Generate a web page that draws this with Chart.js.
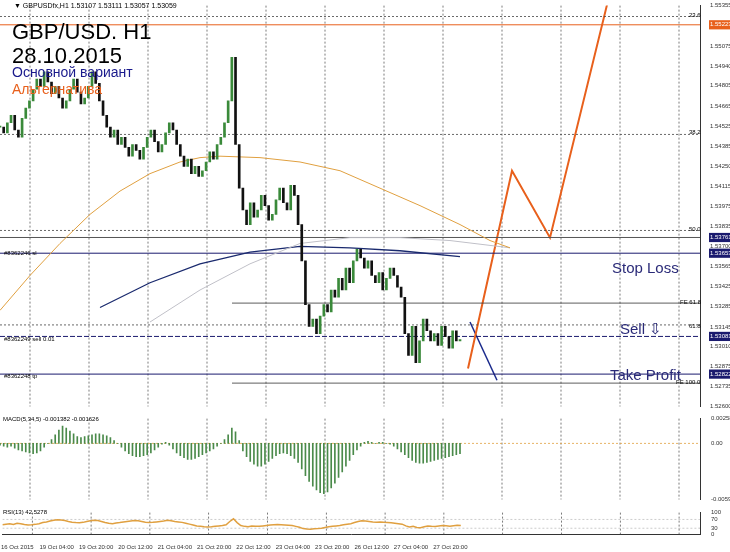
<!DOCTYPE html><html><head><meta charset="utf-8">
<script src="https://cdn.jsdelivr.net/npm/chart.js@4"></script>
<style>body{margin:0;width:730px;height:552px;background:#fff;position:relative;overflow:hidden;font-family:Arial,"Liberation Sans",sans-serif}
.p{position:absolute;left:0;width:730px}.t{position:absolute;white-space:nowrap}</style></head><body>
<div class="p" style="top:0;height:412px"><canvas id="c1"></canvas></div>
<div class="p" style="top:412px;height:94px"><canvas id="c2"></canvas></div>
<div class="p" style="top:506px;height:46px"><canvas id="c3"></canvas></div>
<div class="t" style="left:14px;top:2px;font-size:7px;color:#000">▼ GBPUSDfx,H1 1.53107 1.53111 1.53057 1.53059</div>
<div class="t" style="left:12px;top:20px;font-size:22px;color:#000;line-height:24px">GBP/USD. H1<br>28.10.2015</div>
<div class="t" style="left:12px;top:64px;font-size:14px;color:#1a1a8c">Основной вариант</div>
<div class="t" style="left:12px;top:81px;font-size:14px;color:#e8601c">Альтернатива</div>
<div class="t" style="left:612px;top:259px;font-size:15px;color:#2a2a78">Stop Loss</div>
<div class="t" style="left:620px;top:320px;font-size:15px;color:#2a2a78">Sell ⇩</div>
<div class="t" style="left:610px;top:366px;font-size:15px;color:#2a2a78">Take Profit</div>
<div class="t" style="left:4px;top:250px;font-size:6px">#8362246 sl</div>
<div class="t" style="left:4px;top:336px;font-size:6px">#8362249 sell 0.01</div>
<div class="t" style="left:4px;top:373px;font-size:6px">#8362248 tp</div>
<div class="t" style="left:689px;top:12px;font-size:6px">23.6</div>
<div class="t" style="left:689px;top:129px;font-size:6px">38.2</div>
<div class="t" style="left:689px;top:226px;font-size:6px">50.0</div>
<div class="t" style="left:680px;top:299px;font-size:6px">FE 61.8</div>
<div class="t" style="left:689px;top:323px;font-size:6px">61.8</div>
<div class="t" style="left:676px;top:379px;font-size:6px">FE 100.0</div>
<div class="t" style="left:3px;top:416px;font-size:6px">MACD(5,34,5) -0.001382 -0.001626</div>
<div class="t" style="left:3px;top:509px;font-size:6px">RSI(13) 42.5278</div>
<script>
const closes=[1.5452,1.5448,1.5455,1.5460,1.5450,1.5445,1.5458,1.5465,1.5470,
1.5478,1.5485,1.5480,1.5490,1.5483,1.5475,1.5480,
1.5472,1.5465,1.5470,1.5478,1.5485,1.5476,1.5468,1.5472,1.5480,1.5490,1.5482,1.5470,
1.5460,1.5452,1.5445,1.5450,1.5440,1.5445,1.5438,1.5432,1.5440,1.5436,1.5430,
1.5438,1.5445,1.5450,1.5442,1.5435,1.5440,1.5448,1.5455,1.5450,1.5440,1.5432,1.5425,1.5430,1.5420,1.5425,1.5418,1.5422,
1.5428,1.5435,1.5430,1.5440,1.5445,1.5455,1.5470,
1.5500,1.5440,1.5410,1.5395,1.5385,1.5400,1.5390,
1.5395,1.5405,1.5398,1.5388,1.5392,1.5402,1.5410,1.5400,1.5395,1.5412,1.5405,1.5385,
1.5360,1.5330,1.5315,1.5320,1.5310,1.5322,
1.5330,1.5325,1.5340,1.5335,1.5348,1.5340,1.5355,1.5345,1.5360,1.5368,1.5362,
1.5355,1.5360,1.5350,1.5345,1.5352,1.5340,1.5348,1.5355,1.5350,1.5342,1.5335,
1.5310,1.5295,1.5315,1.5290,1.5305,
1.5320,1.5312,1.5305,1.5310,1.5302,1.5315,1.5308,1.5300,1.5312,1.5305,1.5306];
const macd=[-0.0002,-0.0003,-0.0004,-0.0003,-0.0005,-0.0007,-0.0008,-0.0009,-0.0010,-0.0011,-0.0010,-0.0008,-0.0004,0.0000,0.0004,0.0009,0.0014,0.0018,0.0016,0.0013,0.0010,0.0007,0.0006,0.0007,0.0008,0.0009,0.0010,0.0010,0.0009,0.0008,0.0006,0.0003,0.0000,-0.0004,-0.0008,-0.0011,-0.0013,-0.0014,-0.0014,-0.0013,-0.0012,-0.0010,-0.0007,-0.0004,-0.0001,0.0001,-0.0002,-0.0006,-0.0010,-0.0013,-0.0015,-0.0017,-0.0017,-0.0016,-0.0014,-0.0012,-0.0010,-0.0008,-0.0006,-0.0003,0.0000,0.0004,0.0009,0.0016,0.0012,0.0003,-0.0008,-0.0014,-0.0019,-0.0022,-0.0024,-0.0024,-0.0022,-0.0019,-0.0016,-0.0013,-0.0011,-0.0010,-0.0011,-0.0013,-0.0016,-0.0020,-0.0027,-0.0034,-0.0040,-0.0045,-0.0049,-0.0052,-0.0053,-0.0051,-0.0047,-0.0042,-0.0036,-0.0030,-0.0024,-0.0018,-0.0012,-0.0007,-0.0003,0.0001,0.0002,0.0001,0.0000,0.0001,0.0001,0.0000,-0.0001,-0.0003,-0.0006,-0.0009,-0.0012,-0.0015,-0.0018,-0.0020,-0.0021,-0.0021,-0.0020,-0.0019,-0.0018,-0.0017,-0.0016,-0.0015,-0.0014,-0.0013,-0.0012,-0.0011];
const rsi=[45,48,50,47,52,50,46,44,45,47,50,55,58,62,66,68,67,64,60,57,55,54,56,60,63,65,64,60,55,52,50,53,55,58,60,62,64,63,60,57,55,56,58,60,62,65,63,60,58,56,52,48,44,40,38,36,35,36,38,40,42,45,60,72,55,42,38,36,40,38,38,40,42,44,45,46,45,44,43,42,38,34,28,26,25,27,28,30,33,36,38,40,42,45,48,50,55,60,63,62,60,58,57,58,56,55,54,52,50,48,40,35,38,33,32,36,40,38,37,40,42,41,39,41,43,42];
const maOrangeX=[0,30,60,90,120,150,180,200,220,260,300,340,380,420,460,490,510];
const maOrangeY=[1.5326,1.5350,1.5372,1.5392,1.5408,1.5420,1.5428,1.5431,1.5432,1.5431,1.5428,1.5422,1.5410,1.5398,1.5385,1.5374,1.5369];
const maGreyX=[150,200,250,300,350,400,450,510];
const maGreyY=[1.5318,1.5340,1.5358,1.5372,1.5376,1.5376,1.5374,1.5369];
const maNavyX=[100,150,200,250,300,350,400,460];
const maNavyY=[1.5328,1.5345,1.5358,1.5366,1.5370,1.5369,1.5367,1.5363];
const altX=[468,512,550,607], altY=[1.5286,1.5422,1.5376,1.5536];
const mainX=[470,497], mainY=[1.5318,1.5278];
const tickVals=[1.55355,1.55223,1.55075,1.54940,1.54805,1.54665,1.54525,1.54385,1.54250,1.54115,1.53975,1.53835,1.53761,1.53700,1.53653,1.53565,1.53425,1.53285,1.53145,1.53081,1.53010,1.52875,1.52822,1.52735,1.52600];
const boxed={"1.55223":"#e8601c","1.53761":"#1a1a6e","1.53653":"#1a1a6e","1.53081":"#1a1a6e","1.52822":"#1a1a6e"};
const dateLabels=['16 Oct 2015','19 Oct 04:00','19 Oct 20:00','20 Oct 12:00','21 Oct 04:00','21 Oct 20:00','22 Oct 12:00','23 Oct 04:00','23 Oct 20:00','26 Oct 12:00','27 Oct 04:00','27 Oct 20:00'];
const fib=[1.5528,1.5447,1.5381,1.5316];
const PX=3.68, XMAX=700/PX;
const pts=(xs,ys)=>xs.map((x,i)=>({x:x/PX,y:ys[i]}));
const hl=(v,x0)=>[{x:x0/PX,y:v},{x:XMAX,y:v}];
Chart.defaults.animation=false;Chart.defaults.font.size=7;Chart.defaults.color='#333';
const fitR={afterFit:s=>{s.width=30}};
const gridTicks=[];for(let k=0;k<12;k++)gridTicks.push((30+59*k)/PX);
const gridPlug={id:'g',beforeDatasetsDraw(ch){const {ctx,chartArea:a,scales:{x}}=ch;ctx.save();ctx.strokeStyle='#444';ctx.lineWidth=0.7;ctx.setLineDash([2,2]);gridTicks.forEach(v=>{const p=x.getPixelForValue(v);if(p<a.right){ctx.beginPath();ctx.moveTo(p,a.top);ctx.lineTo(p,a.bottom);ctx.stroke();}});ctx.restore();}};
function xNoGrid(){return {type:'linear',min:0,max:XMAX,display:false,offset:false}}
const candles=closes.map((c,i)=>({x:i,y:[i?closes[i-1]:c,c]}));
const line=(data,color,w,dash)=>({type:'line',data,borderColor:color,borderWidth:w,borderDash:dash||[],pointRadius:0,fill:false,tension:0});
new Chart(c1,{type:'bar',plugins:[gridPlug],data:{datasets:[
 {data:candles,backgroundColor:closes.map((c,i)=>c>=(i?closes[i-1]:c)?'#3a8a3a':'#111'),barThickness:2,minBarLength:1,grouped:false},
 line(pts(maOrangeX,maOrangeY),'#e0a040',1),
 line(pts(maGreyX,maGreyY),'#c0c0c8',1),
 line(pts(maNavyX,maNavyY),'#1a2a6e',1.3),
 line(hl(1.55223,0),'#e8601c',1),
 line(hl(1.53761,0),'#555',1),
 line(hl(1.53653,0),'#1a1a6e',1),
 line(hl(1.53081,0),'#1a1a6e',1,[5,2]),
 line(hl(1.52822,0),'#1a1a6e',1),
 line(hl(1.5331,232),'#333',0.8),
 line(hl(1.5276,232),'#333',0.8),
 ...fib.map(f=>line(hl(f,0),'#444',0.8,[2,2])),
 line(pts(altX,altY),'#e8601c',2),
 line(pts(mainX,mainY),'#1a2a8c',1.5)
]},options:{responsive:true,maintainAspectRatio:false,layout:{padding:{top:3,bottom:2}},plugins:{legend:{display:false},tooltip:{enabled:false}},
 scales:{x:xNoGrid(),y:{position:'right',min:1.5260,max:1.55355,...fitR,afterBuildTicks:s=>{s.ticks=tickVals.map(v=>({value:v}))},
 grid:{display:false},border:{color:'#333'},ticks:{autoSkip:false,padding:2,font:{size:6},callback:v=>v.toFixed(5),
 showLabelBackdrop:true,backdropPadding:1,backdropColor:c=>boxed[c.tick.value.toFixed(5)]||'rgba(0,0,0,0)',color:c=>boxed[c.tick.value.toFixed(5)]?'#fff':'#333'}}}}});
new Chart(c2,{type:'bar',plugins:[gridPlug],data:{datasets:[
 {data:macd.map((v,i)=>({x:i,y:v})),backgroundColor:'#4a8a4a',barThickness:1},
 line(hl(0,0),'#e0a040',0.8,[2,2])
]},options:{responsive:true,maintainAspectRatio:false,layout:{padding:{top:6,bottom:4}},plugins:{legend:{display:false},tooltip:{enabled:false}},
 scales:{x:xNoGrid(),y:{position:'right',min:-0.0059,max:0.0026,...fitR,afterBuildTicks:s=>{s.ticks=[0.002589,0,-0.005923].map(v=>({value:v}))},grid:{display:false},border:{color:'#333'},
 ticks:{font:{size:6},callback:v=>v===0?'0.00':v.toFixed(6)}}}}});
const labelX=dateLabels.map((l,k)=>(15+39.5*k)/PX);
new Chart(c3,{type:'line',plugins:[gridPlug],data:{datasets:[
 line(rsi.map((v,i)=>({x:i,y:v})),'#e0a040',1.5),
 line(hl(70,0),'#aaa',0.6,[2,2]),line(hl(30,0),'#aaa',0.6,[2,2])
]},options:{responsive:true,maintainAspectRatio:false,layout:{padding:{top:2}},plugins:{legend:{display:false},tooltip:{enabled:false}},
 scales:{x:{type:'linear',min:0,max:XMAX,afterBuildTicks:s=>{s.ticks=labelX.map(v=>({value:v}))},grid:{display:false},border:{color:'#333'},
  ticks:{font:{size:6},padding:1,maxRotation:0,autoSkip:false,callback:(v,i)=>dateLabels[i]}},
 y:{position:'right',min:0,max:100,...fitR,afterBuildTicks:s=>{s.ticks=[100,70,30,0].map(v=>({value:v}))},grid:{display:false},border:{color:'#333'},ticks:{font:{size:6},autoSkip:false}}}}});
</script></body></html>
